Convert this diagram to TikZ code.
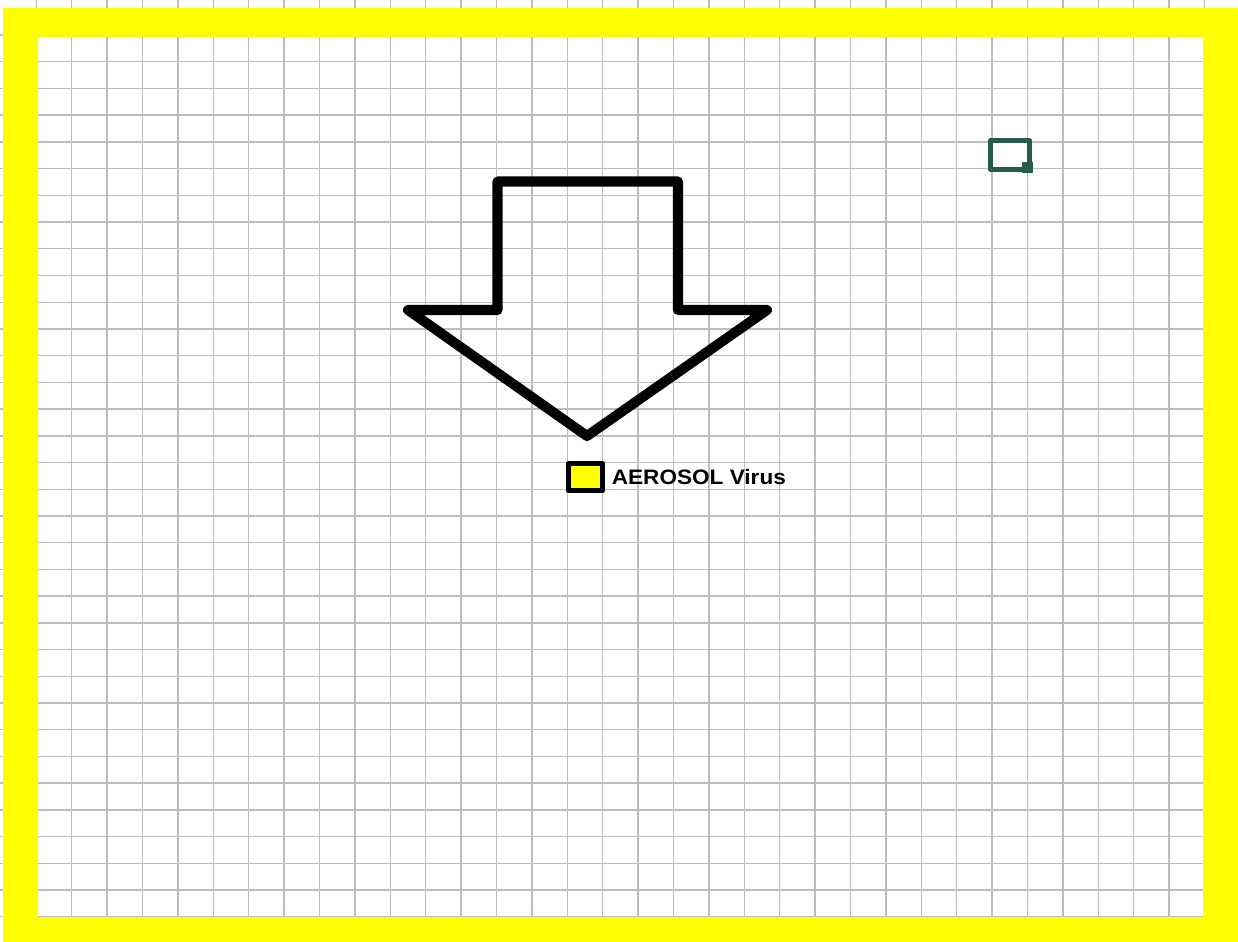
\documentclass[tikz,border=0pt]{standalone}
\usepackage{fontspec}
\newfontfamily\labelfont{Liberation Sans}
\usetikzlibrary{positioning}
\definecolor{gridgray}{RGB}{186,190,194}
\definecolor{frameyellow}{RGB}{255,255,0}
\definecolor{icongreen}{RGB}{40,92,74}
\tikzset{gridline/.style={gridgray,line width=.8pt},
 cellbox/.style={draw=black,fill=frameyellow,line width=3.4pt,inner sep=0pt,
 minimum width=.68cm,minimum height=.54cm}}
\begin{document}
\begin{tikzpicture}[x=.02cm,y=-.02cm,line join=round]
\useasboundingbox (0,0) rectangle (1238,942);
\fill[white] (0,0) rectangle (1238,942);
% grid
\foreach \k in {0,...,34}{\draw[gridline] (36.3+35.4*\k,0) -- (36.3+35.4*\k,942);}
\foreach \k in {1,...,34}{\draw[gridline] (0,8.3+26.72*\k) -- (1238,8.3+26.72*\k);}
% frame
\fill[frameyellow,even odd rule] (3,8) rectangle (1238,942)
 (38,37) rectangle (1203,917);
% arrow
\draw[line width=5.7pt] (497.5,181.5) -- (678,181.5) -- (678,310) -- (767,310)
 -- (587,436) -- (408,310) -- (497.5,310) -- cycle;
\node[cellbox] (virus) at (585.5,477) {};
\node[right=.12cm of virus,inner sep=0pt,xscale=1.08,
 font=\labelfont\bfseries\fontsize{11.9}{14}\selectfont] (virlabel) {AEROSOL Virus};
% icon
\draw[icongreen,line width=2.8pt] (990.5,140.5) rectangle (1029.5,169.5);
\fill[icongreen] (1021.7,161.7) rectangle (1033,173);
\end{tikzpicture}
\end{document}
